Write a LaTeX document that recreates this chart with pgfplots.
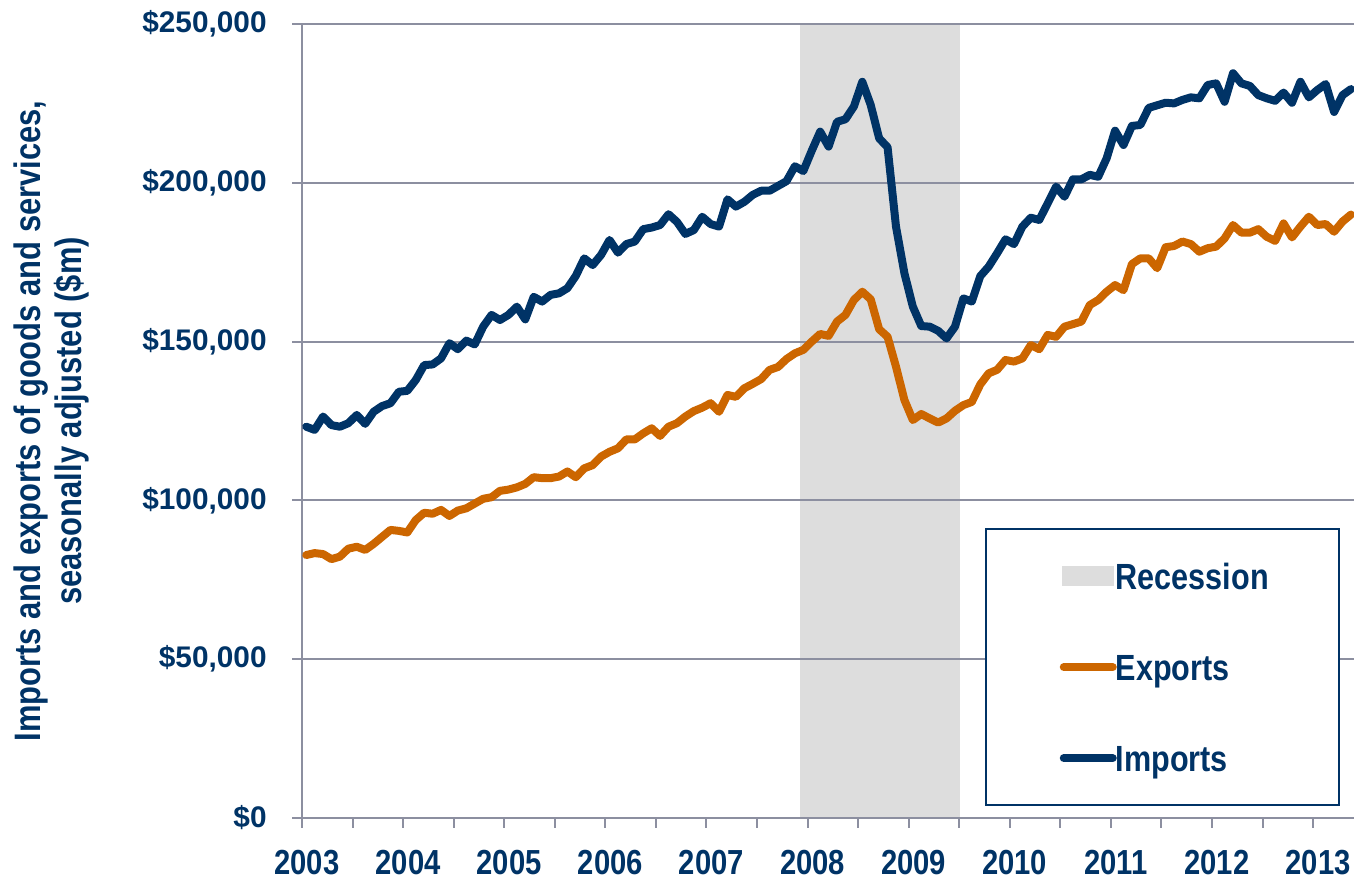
\documentclass[border=0pt]{standalone}
\usepackage{pgfplots}
\usepackage{pgfplotstable}
\pgfplotsset{compat=1.18}
\usepackage{fontspec}
\setmainfont{Liberation Sans}
\newfontfamily\narrow[FakeStretch=0.84]{Liberation Sans}
\usetikzlibrary{calc}
\definecolor{navy}{HTML}{003366}
\definecolor{expcol}{HTML}{CC6600}
\definecolor{recgray}{HTML}{DDDDDD}
\definecolor{gridgray}{RGB}{140,143,160}

\pgfplotsset{
  lineleg/.style={legend image code/.code={%
    \draw[#1, line width=4pt, line cap=round] (2pt,0pt) -- (26.5pt,0pt);
    \path (0pt,0pt) (28.5pt,0pt);}},
  recleg/.style={legend image code/.code={%
    \fill[recgray] (1pt,-5pt) rectangle (27pt,5pt);
    \path (0pt,0pt) (28.5pt,0pt);}},
}

% k = months since Jan 2003; values in $m
\pgfplotstableread{
k imp exp
0 123200 82800
1 122200 83400
2 126400 83100
3 123700 81500
4 123200 82300
5 124300 84800
6 126900 85400
7 124100 84400
8 127900 86300
9 129700 88500
10 130600 90700
11 134200 90400
12 134500 89900
13 137900 93800
14 142600 96100
15 142800 95800
16 144700 97000
17 149500 95100
18 147600 96800
19 150300 97500
20 149100 99000
21 154700 100500
22 158400 101000
23 156800 103000
24 158400 103400
25 161000 104100
26 157000 105200
27 164100 107300
28 162600 107000
29 164700 107000
30 165200 107500
31 166800 109100
32 170700 107300
33 176200 110100
34 174100 111100
35 177300 113800
36 182000 115300
37 178000 116400
38 180700 119200
39 181500 119200
40 185400 121100
41 185900 122700
42 186700 120300
43 190100 123200
44 187700 124300
45 183900 126400
46 185100 128100
47 189300 129200
48 187000 130600
49 186200 127900
50 194800 133200
51 192500 132600
52 194000 135300
53 196200 136700
54 197500 138200
55 197500 141100
56 199000 142000
57 200500 144500
58 205200 146300
59 203700 147400
60 210100 150000
61 216100 152400
62 211400 151800
63 219200 156300
64 220000 158400
65 224000 163100
66 231800 165700
67 224500 163300
68 214000 153900
69 211200 151500
70 186200 142100
71 171500 131600
72 161000 125300
73 154900 127200
74 154700 125800
75 153400 124500
76 151000 125800
77 154700 128200
78 163600 130000
79 162600 131000
80 170600 136500
81 173600 140000
82 177800 141100
83 182200 144200
84 180700 143700
85 186200 144700
86 189000 148900
87 188300 147600
88 193500 152100
89 198800 151500
90 195600 154700
91 201100 155500
92 201100 156300
93 202500 161500
94 201900 163100
95 207700 165700
96 216400 167800
97 211900 166200
98 217900 174400
99 218200 176200
100 223600 176200
101 224400 173100
102 225200 179700
103 225000 180100
104 226100 181500
105 226900 180700
106 226600 178300
107 230800 179400
108 231300 179900
109 225500 182500
110 234500 186700
111 231300 184300
112 230500 184300
113 227600 185400
114 226600 183000
115 225800 181700
116 228400 187200
117 225200 182800
118 231800 186200
119 226900 189300
120 229200 186700
121 231100 187000
122 222300 184600
123 227600 187800
124 229500 190000
}\trade

\begin{document}
\begin{tikzpicture}
\begin{axis}[
  name=ax,
  set layers,
  scale only axis,
  width=526pt, height=397pt,
  xmin=-0.5, xmax=124.36,
  ymin=0, ymax=250000,
  axis lines*=left,
  axis line style={gridgray, line width=1.2pt},
  tick style={gridgray, line width=1pt},
  major tick length=5pt, minor tick length=5pt,
  tick align=outside,
  xtick={-0.5,11.5,...,119.5},
  xticklabels={2003,2004,2005,2006,2007,2008,2009,2010,2011,2012,2013},
  minor xtick={5.5,17.5,...,113.5},
  ytick={0,50000,...,250000},
  yticklabels={\$0,{\$50,000},{\$100,000},{\$150,000},{\$200,000},{\$250,000}},
  ymajorgrids,
  grid style={gridgray, line width=1pt},
  xticklabel style={font=\narrow\bfseries\fontsize{17.4}{17.4}\selectfont, text=navy, inner sep=0pt, anchor=north, yshift=-11pt, xshift=2.5pt},
  yticklabel style={font=\bfseries\fontsize{14.9}{14.9}\selectfont, text=navy, inner sep=0pt, anchor=east, xshift=-12.5pt},
  ylabel={Imports and exports of goods and services,\\seasonally adjusted (\$m)},
  ylabel style={align=center, font=\narrow\bfseries\fontsize{18.4}{20.5}\selectfont, text=navy, inner sep=0pt, at={([xshift=-106pt]rel axis cs:0,0.5)}, anchor=south},
  legend style={at={(0.649,0.365)}, anchor=north west, draw=navy, line width=1pt, fill=white,
    inner xsep=35pt, inner ysep=17pt, row sep=32.5pt, column sep=-2.5pt,
    font=\narrow\bfseries\fontsize{18.2}{18.2}\selectfont, text=navy,
    nodes={inner sep=0pt, text height=13pt, text depth=0pt}},
  legend cell align=left,
]
\addplot[fill=recgray, draw=none, on layer=axis background, recleg]
  coordinates {(58.6,250000) (77.6,250000)} \closedcycle;
\addlegendentry{Recession}
\addplot[expcol, line width=4pt, line join=round, line cap=round, lineleg=expcol]
  table[x=k, y=exp] {\trade};
\addlegendentry{Exports}
\addplot[navy, line width=4pt, line join=round, line cap=round, lineleg=navy]
  table[x=k, y=imp] {\trade};
\addlegendentry{Imports}
\end{axis}
\pgfresetboundingbox
\path ($(ax.south west)+(-151pt,-31.5pt)$) rectangle ($(ax.south west)+(526pt,409pt)$);
\end{tikzpicture}
\end{document}
